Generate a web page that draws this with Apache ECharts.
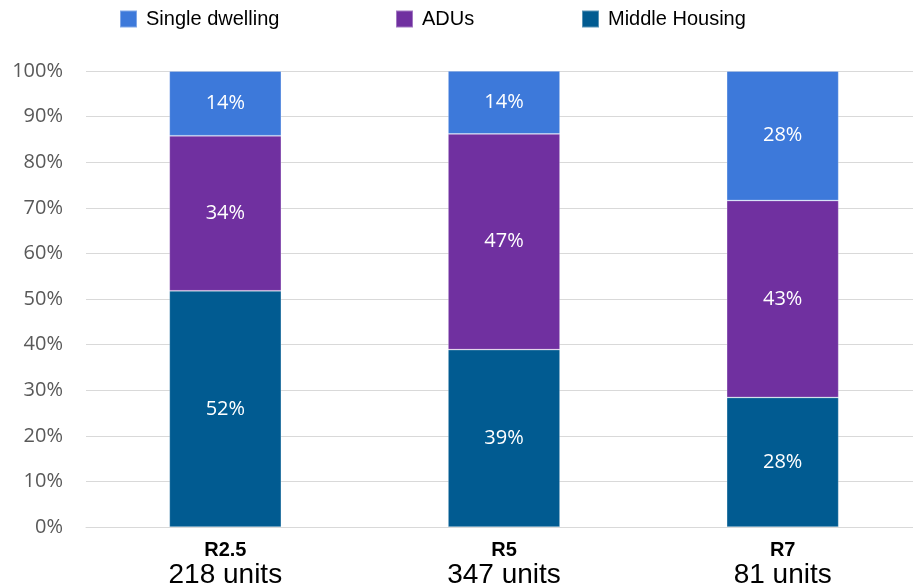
<!DOCTYPE html>
<html>
<head>
<meta charset="utf-8">
<script src="https://cdn.jsdelivr.net/npm/echarts@6/dist/echarts.min.js"></script>
<style>
  html, body { margin: 0; padding: 0; background: #fff; }
  #chart { width: 913px; height: 587px; }
</style>
</head>
<body>
<div id="chart"></div>
<script>
// Zone names and the number of units permitted in each
const zones = ['R2.5', 'R5', 'R7'];
const units = ['218 units', '347 units', '81 units'];

// Share of units by housing type (%)
const middleHousing = [51.8, 38.9, 28.4];
const adus = [34.0, 47.3, 43.2];
const singleDwelling = [14.2, 13.8, 28.4];

// Y axis tick range (%)
const yMin = 0, yMax = 100, yStep = 10;

const colors = {
  single: '#3D79DA',
  adu: '#7030A0',
  middle: '#015B91'
};

const chart = echarts.init(document.getElementById('chart'));

const labelStyle = {
  show: true,
  position: 'inside',
  color: '#ffffff',
  fontFamily: 'Open Sans',
  fontSize: 20,
  formatter: p => Math.round(p.value) + '%'
};

const legendBase = {
  top: 4,
  icon: 'rect',
  itemWidth: 17,
  itemHeight: 17,
  textStyle: {
    fontFamily: 'Liberation Sans, Arial',
    fontSize: 20,
    color: '#000',
    padding: [0, 0, 0, 4]
  }
};

chart.setOption({
  animation: false,
  color: [colors.middle, colors.adu, colors.single],
  legend: [
    Object.assign({}, legendBase, { left: 114, data: ['Single dwelling'] }),
    Object.assign({}, legendBase, { left: 390, data: ['ADUs'] }),
    Object.assign({}, legendBase, { left: 576, data: ['Middle Housing'] })
  ],
  grid: { left: 86, right: -9, top: 71, bottom: 60, containLabel: false, outerBoundsMode: 'none' },
  xAxis: {
    type: 'category',
    data: zones,
    axisLine: { show: true, lineStyle: { color: '#d9d9d9', width: 1 } },
    axisTick: { show: false },
    axisLabel: {
      margin: 12,
      formatter: (v, i) => '{b|' + v + '}\n{u|' + units[i] + '}',
      rich: {
        b: { fontFamily: 'Liberation Sans, Arial', fontWeight: 'bold', fontSize: 20, color: '#000', lineHeight: 22 },
        u: { fontFamily: 'Liberation Sans, Arial', fontSize: 28, color: '#000', lineHeight: 28 }
      }
    }
  },
  yAxis: {
    type: 'value',
    min: yMin,
    max: yMax,
    interval: yStep,
    axisLine: { show: false },
    axisTick: { show: false },
    splitLine: { lineStyle: { color: '#d9d9d9', width: 1 } },
    axisLabel: {
      margin: 23,
      formatter: '{value}%',
      fontFamily: 'Open Sans',
      fontSize: 20,
      color: '#595959'
    }
  },
  series: [
    {
      name: 'Middle Housing', type: 'bar', stack: 'share', barWidth: 112,
      data: middleHousing, label: labelStyle,
      itemStyle: { color: colors.middle, borderColor: 'rgba(255,255,255,0.35)', borderWidth: 0.75 }
    },
    {
      name: 'ADUs', type: 'bar', stack: 'share', barWidth: 112,
      data: adus, label: labelStyle,
      itemStyle: { color: colors.adu, borderColor: 'rgba(255,255,255,0.35)', borderWidth: 0.75 }
    },
    {
      name: 'Single dwelling', type: 'bar', stack: 'share', barWidth: 112,
      data: singleDwelling, label: labelStyle,
      itemStyle: { color: colors.single, borderColor: 'rgba(255,255,255,0.35)', borderWidth: 0.75 }
    }
  ]
});
</script>
</body>
</html>
